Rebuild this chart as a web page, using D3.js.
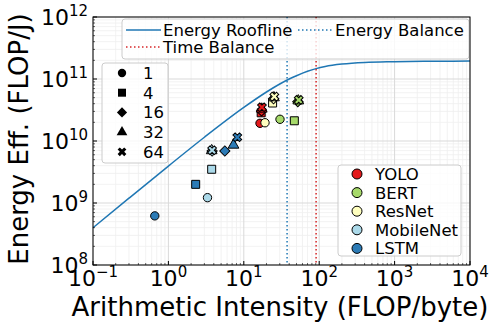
<!DOCTYPE html>
<html>
<head>
<meta charset="utf-8">
<script src="https://cdn.jsdelivr.net/npm/d3@7"></script>
<style>
body{margin:0;background:#fff}
text{font-family:"DejaVu Sans",sans-serif;fill:#000}
</style>
</head>
<body>
<svg id="chart"></svg>
<script>
// models, colours and batch sizes
const models = ['YOLO', 'BERT', 'ResNet', 'MobileNet', 'LSTM'];
const modelColors = ['#e31a1c', '#a6d96a', '#ffffbf', '#abd9e9', '#2c7bb6'];
const batches = [1, 4, 16, 32, 64];

// arithmetic intensity (FLOP/byte) and energy efficiency (FLOP/J), one per batch size
const yoloAI = [16.4, 17.0, 17.2, 17.3, 17.4];
const yoloEff = [1.93e10, 2.85e10, 3.05e10, 3.28e10, 3.5e10];
const bertAI = [30.2, 46.8, 52.0, 52.8, 53.5];
const bertEff = [2.24e10, 2.12e10, 4.3e10, 4.45e10, 4.6e10];
const resnetAI = [19.1, 24.1, 24.8, 25.1, 25.4];
const resnetEff = [1.97e10, 4.1e10, 4.8e10, 5.0e10, 5.2e10];
const mobilenetAI = [3.3, 3.75, 3.8, 3.75, 3.8];
const mobilenetEff = [1.22e9, 3.5e9, 6.9e9, 7.0e9, 7.1e9];
const lstmAI = [0.66, 2.3, 5.6, 7.3, 8.2];
const lstmEff = [6.2e8, 2.0e9, 6.9e9, 8.6e9, 1.15e10];

// energy roofline
const roofAI = [0.1, 0.3, 1, 3, 10, 20, 30, 40, 50, 70, 91, 120, 200, 400, 1000, 3000, 10000];
const roofEff = [3.99e8, 1.195e9, 3.94e9, 1.15e10, 3.48e10, 6.17e10, 8.3e10, 1.0e11, 1.13e11,
                 1.33e11, 1.47e11, 1.59e11, 1.74e11, 1.85e11, 1.9e11, 1.934e11, 1.945e11];
const energyBalance = 37.5;
const timeBalance = 91;

const xTicks = [-1, 0, 1, 2, 3, 4];
const yTicks = [8, 9, 10, 11, 12];

const seriesAI = [yoloAI, bertAI, resnetAI, mobilenetAI, lstmAI];
const seriesEff = [yoloEff, bertEff, resnetEff, mobilenetEff, lstmEff];

const width = 498, height = 332;
const margin = {top: 17, right: 28, bottom: 67, left: 93};

const svg = d3.select('#chart').attr('width', width).attr('height', height);

const x = d3.scaleLog().domain([0.1, 1e4]).range([margin.left, width - margin.right]);
const y = d3.scaleLog().domain([1e8, 1e12]).range([height - margin.bottom, margin.top]);

const [x0, x1] = x.range();
const [y0, y1] = y.range();

// minor values between decades
const minorX = [], minorY = [];
for (let k = -1; k < 4; k++) for (let m = 2; m < 10; m++) minorX.push(m * Math.pow(10, k));
for (let k = 8; k < 12; k++) for (let m = 2; m < 10; m++) minorY.push(m * Math.pow(10, k));

// grid
const grid = svg.append('g');
grid.selectAll('.mx').data(minorX).enter().append('line')
  .attr('x1', d => x(d)).attr('x2', d => x(d)).attr('y1', y1).attr('y2', y0)
  .attr('stroke', '#efefef').attr('stroke-width', 0.8);
grid.selectAll('.my').data(minorY).enter().append('line')
  .attr('x1', x0).attr('x2', x1).attr('y1', d => y(d)).attr('y2', d => y(d))
  .attr('stroke', '#efefef').attr('stroke-width', 0.8);
grid.selectAll('.Mx').data(xTicks).enter().append('line')
  .attr('x1', d => x(Math.pow(10, d))).attr('x2', d => x(Math.pow(10, d))).attr('y1', y1).attr('y2', y0)
  .attr('stroke', '#d9d9d9').attr('stroke-width', 1);
grid.selectAll('.My').data(yTicks).enter().append('line')
  .attr('x1', x0).attr('x2', x1).attr('y1', d => y(Math.pow(10, d))).attr('y2', d => y(Math.pow(10, d)))
  .attr('stroke', '#d9d9d9').attr('stroke-width', 1);

// roofline
const roof = roofAI.map((d, i) => [d, roofEff[i]]);
svg.append('path')
  .attr('d', d3.line().x(d => x(d[0])).y(d => y(d[1])).curve(d3.curveMonotoneX)(roof))
  .attr('fill', 'none').attr('stroke', '#1f77b4').attr('stroke-width', 1.5);

// balance lines
svg.append('line')
  .attr('x1', x(energyBalance)).attr('x2', x(energyBalance)).attr('y1', y1).attr('y2', y0)
  .attr('stroke', '#1f77b4').attr('stroke-width', 1.5).attr('stroke-dasharray', '1.5,2.5');
svg.append('line')
  .attr('x1', x(timeBalance)).attr('x2', x(timeBalance)).attr('y1', y1).attr('y2', y0)
  .attr('stroke', '#d62728').attr('stroke-width', 1.5).attr('stroke-dasharray', '1.5,2.5');

// marker shapes per batch size
const shapes = [
  {type: d3.symbolCircle, size: 55, rot: 0},
  {type: d3.symbolSquare, size: 64, rot: 0},
  {type: d3.symbolSquare, size: 52, rot: 45},
  {type: d3.symbolTriangle, size: 50, rot: 0},
  {type: d3.symbolCross, size: 48, rot: 45}
];

const points = [];
models.forEach((m, i) => {
  batches.forEach((b, j) => {
    points.push({model: i, batch: j, ai: seriesAI[i][j], eff: seriesEff[i][j]});
  });
});

svg.append('g').selectAll('path').data(points).enter().append('path')
  .attr('d', d => d3.symbol().type(shapes[d.batch].type).size(shapes[d.batch].size)())
  .attr('transform', d => `translate(${x(d.ai)},${y(d.eff)}) rotate(${shapes[d.batch].rot})`)
  .attr('fill', d => modelColors[d.model])
  .attr('stroke', '#000').attr('stroke-width', 1);

// legends
function legendBox(x, y, w, h) {
  svg.append('rect').attr('x', x).attr('y', y).attr('width', w).attr('height', h)
    .attr('rx', 3).attr('fill', '#fff').attr('fill-opacity', 0.8)
    .attr('stroke', '#cccccc').attr('stroke-width', 1);
}

legendBox(122, 19, 347, 40);
const lineLegend = [
  {label: 'Energy Roofline', x: 126, y: 30, color: '#1f77b4', dash: null},
  {label: 'Energy Balance', x: 298, y: 30, color: '#1f77b4', dash: '1.5,2.5'},
  {label: 'Time Balance', x: 126, y: 47, color: '#d62728', dash: '1.5,2.5'}
];
lineLegend.forEach(d => {
  svg.append('line').attr('x1', d.x).attr('x2', d.x + 35).attr('y1', d.y).attr('y2', d.y)
    .attr('stroke', d.color).attr('stroke-width', 1.5).attr('stroke-dasharray', d.dash);
  svg.append('text').attr('x', d.x + 37).attr('y', d.y).attr('dy', '0.36em')
    .attr('font-size', 16.5).text(d.label);
});

legendBox(102, 63, 66, 100);
batches.forEach((b, j) => {
  const yy = 73 + j * 19.7;
  svg.append('path')
    .attr('d', d3.symbol().type(shapes[j].type).size(shapes[j].size)())
    .attr('transform', `translate(122,${yy}) rotate(${shapes[j].rot})`)
    .attr('fill', '#000');
  svg.append('text').attr('x', 143).attr('y', yy).attr('dy', '0.36em')
    .attr('font-size', 16.5).text(b);
});

legendBox(338, 165, 123, 91);
models.forEach((m, i) => {
  const yy = 174 + i * 18.6;
  svg.append('circle').attr('cx', 357).attr('cy', yy).attr('r', 5)
    .attr('fill', modelColors[i]).attr('stroke', '#000').attr('stroke-width', 1);
  svg.append('text').attr('x', 375).attr('y', yy).attr('dy', '0.36em')
    .attr('font-size', 16.5).text(m);
});

// frame
svg.append('rect').attr('x', x0).attr('y', y1).attr('width', x1 - x0).attr('height', y0 - y1)
  .attr('fill', 'none').attr('stroke', '#000').attr('stroke-width', 1);

// inward ticks
const tickG = svg.append('g');
tickG.selectAll('.tx').data(xTicks).enter().append('line')
  .attr('x1', d => x(Math.pow(10, d))).attr('x2', d => x(Math.pow(10, d)))
  .attr('y1', y0).attr('y2', y0 - 4).attr('stroke', '#000');
tickG.selectAll('.tmx').data(minorX).enter().append('line')
  .attr('x1', d => x(d)).attr('x2', d => x(d))
  .attr('y1', y0).attr('y2', y0 - 2).attr('stroke', '#000').attr('stroke-width', 0.6);
tickG.selectAll('.ty').data(yTicks).enter().append('line')
  .attr('x1', x0).attr('x2', x0 + 4)
  .attr('y1', d => y(Math.pow(10, d))).attr('y2', d => y(Math.pow(10, d))).attr('stroke', '#000');
tickG.selectAll('.tmy').data(minorY).enter().append('line')
  .attr('x1', x0).attr('x2', x0 + 2)
  .attr('y1', d => y(d)).attr('y2', d => y(d)).attr('stroke', '#000').attr('stroke-width', 0.6);

// tick labels as 10^k
function powerLabel(sel) {
  sel.append('tspan').attr('font-size', 22).text('10');
  sel.append('tspan').attr('font-size', 15).attr('dy', -9)
    .text(d => d < 0 ? '\u2212' + (-d) : d);
}
svg.append('g').selectAll('text').data(xTicks).enter().append('text')
  .attr('x', d => x(Math.pow(10, d))).attr('y', 286)
  .attr('text-anchor', 'middle')
  .call(powerLabel);
svg.append('g').selectAll('text').data(yTicks).enter().append('text')
  .attr('x', 88).attr('y', d => y(Math.pow(10, d)) + 8)
  .attr('text-anchor', 'end')
  .call(powerLabel);

// axis titles
svg.append('text').attr('x', 280).attr('y', 316).attr('text-anchor', 'middle')
  .attr('font-size', 26).text('Arithmetic Intensity (FLOP/byte)');
svg.append('text').attr('transform', 'translate(28,139) rotate(-90)')
  .attr('text-anchor', 'middle').attr('font-size', 26).text('Energy Eff. (FLOP/J)');
</script>
</body>
</html>
